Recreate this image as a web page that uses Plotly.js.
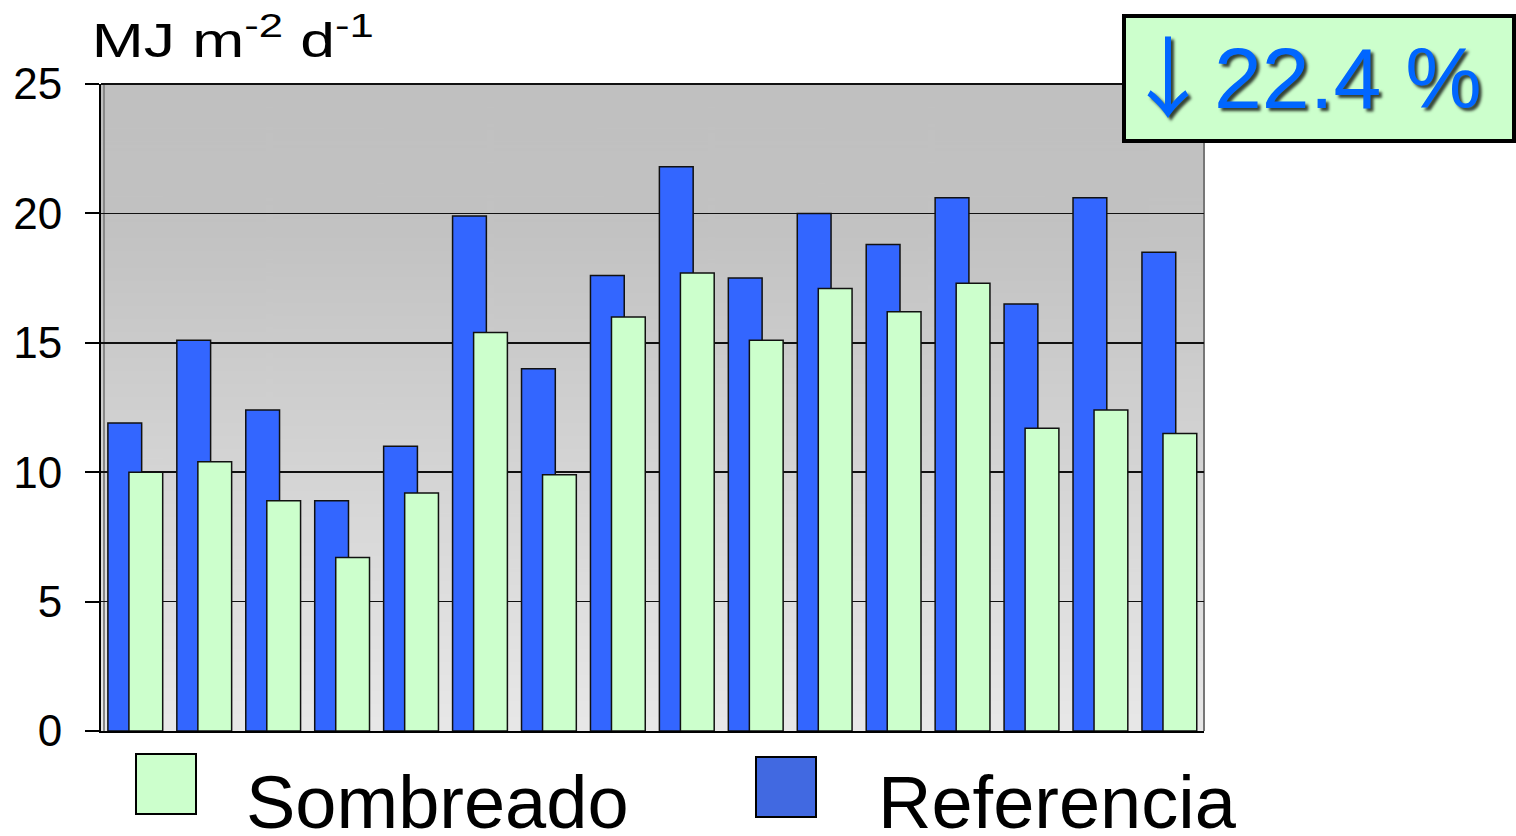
<!DOCTYPE html>
<html><head><meta charset="utf-8">
<script src="https://cdn.plot.ly/plotly-3.0.1.min.js"></script>
<style>html,body{margin:0;padding:0;background:#fff;}#chart{width:1516px;height:836px;}</style>
</head><body><div id="chart"></div>
<script>
// Data
const categories = [1,2,3,4,5,6,7,8,9,10,11,12,13,14,15,16];
const referencia = [11.9,15.1,12.4,8.9,11.0,19.9,14.0,17.6,21.8,17.5,20.0,18.8,20.6,16.5,20.6,18.5];
const sombreado  = [10.0,10.4,8.9,6.7,9.2,15.4,9.9,16.0,17.7,15.1,17.1,16.2,17.3,11.7,12.4,11.5];
const seriesNames = ['Sombreado','Referencia'];
const yTicks = [0,5,10,15,20,25];
const titleText = 'MJ m<sup>-2</sup> d<sup>-1</sup>';
const boxArrow = '↓';
const boxText = '22.4 %';

// gradient background image
const cv = document.createElement('canvas');
cv.width = 10; cv.height = 400;
const ctx = cv.getContext('2d');
const g = ctx.createLinearGradient(0,0,0,400);
g.addColorStop(0,'#c0c0c0');
g.addColorStop(0.22,'#c2c2c2');
g.addColorStop(1,'#e8e8e8');
ctx.fillStyle = g; ctx.fillRect(0,0,10,400);
const bgURL = cv.toDataURL('image/png');

const FONT = 'Arial, "Liberation Sans", sans-serif';
const blue = '#3366ff', green = '#ccffcc', legBlue = '#4169e1';

const traces = [
  {type:'bar', name:seriesNames[1], x:categories.map((c,i)=>i), y:referencia,
   offset:-0.40, width:0.49, marker:{color:blue, line:{color:'#111', width:1.5}}, hoverinfo:'y'},
  {type:'bar', name:seriesNames[0], x:categories.map((c,i)=>i), y:sombreado,
   offset:-0.095, width:0.49, marker:{color:green, line:{color:'#111', width:1.5}}, hoverinfo:'y'}
];

// pixel -> paper helpers (plot area 101..1204 x, 84..731 y)
const L=101,R=1204,T=84,B=731;
const px = v => (v-L)/(R-L);
const py = v => (B-v)/(B-T);
const shadow = '3px 3px 3px rgba(0,0,0,0.75)';

const layout = {
  width:1516, height:836,
  margin:{l:L, r:1516-R, t:T, b:836-B, pad:0},
  paper_bgcolor:'#ffffff', plot_bgcolor:'rgba(0,0,0,0)',
  barmode:'overlay', showlegend:false,
  font:{family:FONT, color:'#000'},
  title:{text:titleText, font:{family:FONT, size:48, color:'#000'},
         xref:'container', yref:'container', x:92/1516, xanchor:'left', y:1-40/836, yanchor:'middle'},
  xaxis:{range:[-0.5,15.5], showticklabels:false, showgrid:false, zeroline:false,
         showline:true, linecolor:'#000', linewidth:2, ticks:'', fixedrange:true},
  yaxis:{range:[0,25], tickvals:yTicks, ticktext:yTicks.map(String), showgrid:true, gridcolor:'#111', gridwidth:1.5,
         zeroline:false, showline:true, linecolor:'#000', linewidth:2, ticks:'outside', ticklen:14,
         tickwidth:2, tickcolor:'#000', tickfont:{family:FONT, size:44, color:'#000'}, ticklabelstandoff:14, fixedrange:true},
  images:[{source:bgURL, xref:'paper', yref:'paper', x:0, y:1, sizex:1, sizey:1, sizing:'stretch', layer:'below'}],
  shapes:[
    {type:'line', xref:'paper', yref:'paper', x0:1, x1:1, y0:0, y1:1, line:{color:'#777', width:2}, layer:'below'},
    {type:'line', xref:'paper', yref:'paper', x0:px(104), x1:px(104), y0:0, y1:1, line:{color:'#888', width:2}, layer:'below'},
    {type:'line', xref:'paper', yref:'paper', x0:0, x1:1, y0:1, y1:1, line:{color:'#111', width:2}, layer:'below'},
    // annotation box
    {type:'rect', xref:'paper', yref:'paper', x0:px(1124), x1:px(1514), y0:py(141), y1:py(16),
     fillcolor:green, line:{color:'#000', width:4}, layer:'above'},
    // legend swatches
    {type:'rect', xref:'paper', yref:'paper', x0:px(136), x1:px(196), y0:py(814), y1:py(754),
     fillcolor:green, line:{color:'#000', width:2}},
    {type:'rect', xref:'paper', yref:'paper', x0:px(756), x1:px(816), y0:py(817), y1:py(757),
     fillcolor:legBlue, line:{color:'#000', width:2}}
  ],
  annotations:[
    {text:boxArrow, xref:'paper', yref:'paper', x:px(1168), y:py(72), xanchor:'center', yanchor:'middle', showarrow:false,
     font:{family:'"Noto Sans CJK JP", "DejaVu Sans", sans-serif', size:88, color:'#0066ff', shadow:shadow}},
    {text:boxText, xref:'paper', yref:'paper', x:px(1348), y:py(78), xanchor:'center', yanchor:'middle', showarrow:false,
     font:{family:FONT, size:86, color:'#0066ff', shadow:shadow}},
    {text:seriesNames[0], xref:'paper', yref:'paper', x:px(244), y:py(802), xanchor:'left', yanchor:'middle', showarrow:false,
     font:{family:FONT, size:74, color:'#000'}},
    {text:seriesNames[1], xref:'paper', yref:'paper', x:px(876), y:py(802), xanchor:'left', yanchor:'middle', showarrow:false,
     font:{family:FONT, size:74, color:'#000'}}
  ]
};

Plotly.newPlot('chart', traces, layout, {displayModeBar:false, staticPlot:true}).then(gd => {
  // the reference title is drawn horizontally stretched
  const t = gd.querySelector('.gtitle');
  if (t) {
    const x0 = 93;
    t.setAttribute('transform', `translate(${x0},0) scale(1.3,1) translate(${-x0},0)`);
  }
});
</script></body></html>
